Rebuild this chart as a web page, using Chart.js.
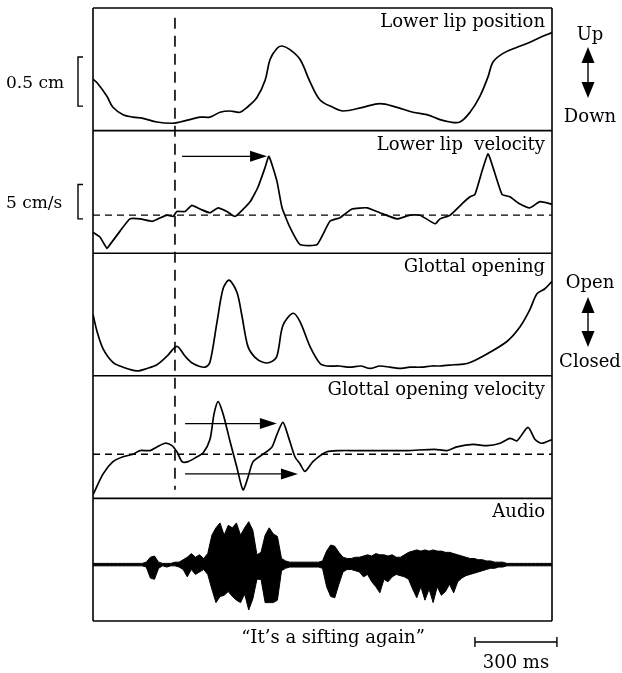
<!DOCTYPE html>
<html lang="en">

<head>
    <meta charset="UTF-8">
    <title>It's a sifting again</title>
    <script src="https://cdn.jsdelivr.net/npm/chart.js"></script>
    <style>
        * {
            margin: 0;
            padding: 0;
        }

        body {
            background-color: #fff;
        }

        canvas {
            display: block;
        }
    </style>
</head>

<body>
    <canvas id="speech-chart" width="622" height="673"></canvas>

    <script>
        // time in ms, values in panel units (0 = panel bottom, 100 = panel top)
        var panelTitles = ['Lower lip position', 'Lower lip  velocity', 'Glottal opening', 'Glottal opening velocity', 'Audio'];

        var lipPosT = [0, 15, 51, 73, 110, 146, 183, 234, 289, 318, 355, 392, 428, 465, 501, 538, 564, 600, 630, 648, 673, 692, 721, 758, 794, 831, 878, 915, 988, 1050, 1113, 1171, 1222, 1270, 1307, 1343, 1380, 1416, 1446, 1464, 1501, 1552, 1599, 1636, 1680];
        var lipPosV = [42, 39, 28, 19, 13, 11, 10, 7, 6, 7, 9, 11, 11, 15, 16, 15, 19, 27, 41, 58, 67, 69, 66, 58, 40, 25, 19, 16, 19, 22, 19, 15, 13, 9, 7, 7, 15, 28, 44, 56, 63, 68, 72, 76, 80];

        var lipVelT = [0, 26, 51, 62, 99, 135, 172, 216, 238, 271, 293, 307, 337, 362, 392, 428, 458, 490, 520, 575, 604, 630, 644, 673, 692, 721, 758, 820, 867, 904, 948, 1003, 1050, 1113, 1160, 1197, 1252, 1270, 1307, 1354, 1380, 1398, 1424, 1446, 1464, 1497, 1526, 1556, 1599, 1636, 1680];
        var lipVelV = [17, 13, 4, 7, 18, 28, 28, 26, 28, 31, 30, 34, 34, 39, 36, 33, 37, 34, 30, 42, 54, 70, 79, 59, 37, 21, 7, 7, 26, 29, 36, 37, 33, 28, 31, 31, 24, 28, 31, 41, 46, 48, 67, 81, 70, 48, 46, 41, 37, 42, 40];
        var lipVelZero = 31;

        var glotT = [0, 15, 37, 73, 110, 161, 198, 234, 271, 307, 337, 366, 410, 428, 454, 476, 498, 527, 545, 567, 593, 622, 648, 673, 695, 732, 758, 794, 831, 856, 900, 941, 980, 1014, 1050, 1087, 1120, 1160, 1200, 1240, 1270, 1320, 1369, 1427, 1515, 1563, 1599, 1625, 1654, 1680];
        var glotV = [50, 36, 22, 11, 7, 4, 6, 9, 16, 24, 16, 10, 7, 11, 44, 71, 78, 68, 49, 24, 15, 11, 11, 16, 41, 51, 44, 24, 10, 8, 8, 7, 8, 6, 8, 7, 6, 7, 7, 8, 8, 9, 10, 16, 28, 40, 54, 67, 71, 77];

        var glotVelT = [0, 37, 73, 110, 146, 172, 209, 234, 264, 289, 307, 326, 348, 381, 403, 428, 443, 458, 476, 501, 527, 549, 567, 586, 622, 655, 673, 695, 714, 739, 758, 776, 805, 856, 904, 960, 1050, 1150, 1250, 1296, 1332, 1391, 1442, 1490, 1526, 1552, 1592, 1618, 1643, 1680];
        var glotVelV = [3, 20, 30, 34, 36, 39, 39, 42, 45, 43, 38, 30, 30, 34, 37, 48, 69, 79, 69, 47, 25, 7, 17, 30, 36, 42, 52, 62, 51, 34, 28, 22, 30, 38, 39, 39, 39, 39, 40, 39, 42, 44, 43, 45, 49, 47, 58, 48, 45, 48];
        var glotVelZero = 36;

        // audio envelope: amplitude above and below the trace centre
        var audioT = [0, 15, 30, 45, 60, 75, 90, 105, 120, 135, 150, 165, 180, 195, 210, 225, 240, 255, 270, 285,
            300, 315, 330, 345, 360, 375, 390, 405, 420, 435, 450, 465, 480, 495, 510, 525, 540, 555, 570, 585,
            600, 615, 630, 645, 660, 675, 690, 705, 720, 735, 750, 765, 780, 795, 810, 825, 840, 855, 870, 885,
            900, 915, 930, 945, 960, 975, 990, 1005, 1020, 1035, 1050, 1065, 1080, 1095, 1110, 1125, 1140, 1155, 1170, 1185,
            1200, 1215, 1230, 1245, 1260, 1275, 1290, 1305, 1320, 1335, 1350, 1365, 1380, 1395, 1410, 1425, 1440, 1455, 1470, 1485,
            1500, 1515, 1530, 1545, 1560, 1575, 1590, 1605, 1620, 1635, 1650, 1665, 1680];
        var audioUp = [1, 1, 1, 1, 1, 1, 1, 1, 1, 1, 1, 1, 1, 2, 6, 7, 2, 1, 1, 1,
            2, 2, 4, 6, 9, 6, 8, 5, 9, 24, 30, 34, 24, 32, 30, 34, 24, 30, 35, 28,
            8, 10, 24, 30, 25, 23, 5, 3, 2, 2, 2, 2, 2, 2, 2, 2, 3, 11, 16, 15,
            10, 6, 5, 5, 6, 6, 7, 8, 7, 9, 8, 8, 7, 8, 6, 6, 8, 10, 11, 12,
            11, 12, 11, 12, 11, 11, 10, 10, 9, 8, 7, 6, 5, 5, 4, 4, 3, 3, 2, 2,
            2, 1, 1, 1, 1, 1, 1, 1, 1, 1, 1, 1, 1];
        var audioDown = [1, 1, 1, 1, 1, 1, 1, 1, 1, 1, 1, 1, 1, 2, 11, 12, 3, 1, 2, 1,
            1, 2, 4, 10, 4, 8, 6, 4, 8, 20, 31, 26, 25, 22, 26, 29, 31, 24, 37, 28,
            12, 12, 31, 31, 31, 29, 5, 3, 2, 2, 2, 2, 2, 2, 2, 2, 3, 18, 26, 27,
            16, 6, 4, 4, 5, 6, 10, 8, 14, 18, 23, 12, 14, 10, 8, 9, 10, 12, 20, 27,
            18, 29, 20, 31, 18, 25, 22, 16, 23, 14, 11, 9, 8, 7, 6, 5, 4, 3, 3, 2,
            2, 1, 1, 1, 1, 1, 1, 1, 1, 1, 1, 1, 1];
        var audioCentre = 46;

        // vertical marker (ms) and its extent on the stacked axis
        var markerT = 300;
        var markerSpan = [492, 107];

        // timing arrows: start ms, end ms, level on the stacked axis
        var arrowStart = [326, 337, 337];
        var arrowEnd = [637, 673, 750];
        var arrowLevel = [379, 161, 120];

        // amplitude calibration brackets (stacked axis units)
        var calibLabels = ['0.5 cm', '5 cm/s'];
        var calibLow = [420, 328];
        var calibHigh = [460, 356];

        var timeBarStart = 1398;
        var timeBarLength = 300;

        var panelCount = 5;

        function stacked(times, values, panel) {
            var base = (panelCount - 1 - panel) * 100;
            return times.map(function (t, i) {
                return { x: t, y: base + values[i] };
            });
        }

        function flat(level, panel) {
            var base = (panelCount - 1 - panel) * 100;
            return [{ x: 0, y: base + level }, { x: 1680, y: base + level }];
        }

        var audioHi = audioT.map(function (t, i) { return { x: t, y: audioCentre + audioUp[i] }; });
        var audioLo = audioT.map(function (t, i) { return { x: t, y: audioCentre - audioDown[i] }; });

        var SERIF = '"DejaVu Serif", serif';

        function arrowHead(ctx, x, y, dir, len, half) {
            ctx.beginPath();
            if (dir === 'right') {
                ctx.moveTo(x, y); ctx.lineTo(x - len, y - half); ctx.lineTo(x - len, y + half);
            } else if (dir === 'up') {
                ctx.moveTo(x, y); ctx.lineTo(x - half, y + len); ctx.lineTo(x + half, y + len);
            } else {
                ctx.moveTo(x, y); ctx.lineTo(x - half, y - len); ctx.lineTo(x + half, y - len);
            }
            ctx.closePath();
            ctx.fill();
        }

        var overlay = {
            id: 'overlay',
            afterDatasetsDraw: function (chart) {
                var ctx = chart.ctx, a = chart.chartArea;
                var xs = chart.scales.x, ys = chart.scales.y;
                ctx.save();
                ctx.strokeStyle = '#000';
                ctx.fillStyle = '#000';
                ctx.lineWidth = 1.6;

                // frame and panel separators
                ctx.beginPath();
                for (var p = 0; p <= panelCount; p++) {
                    var py = ys.getPixelForValue(p * 100);
                    ctx.moveTo(a.left, py);
                    ctx.lineTo(a.right, py);
                }
                ctx.moveTo(a.left, a.top);
                ctx.lineTo(a.left, a.bottom);
                ctx.moveTo(a.right, a.top);
                ctx.lineTo(a.right, a.bottom);
                ctx.stroke();

                // panel titles
                ctx.font = '18px ' + SERIF;
                ctx.textAlign = 'right';
                ctx.textBaseline = 'alphabetic';
                panelTitles.forEach(function (title, i) {
                    var top = ys.getPixelForValue((panelCount - i) * 100);
                    ctx.fillText(title, a.right - 7, top + 19);
                });

                // timing arrows
                ctx.lineWidth = 1.4;
                arrowStart.forEach(function (t0, i) {
                    var x0 = xs.getPixelForValue(t0), x1 = xs.getPixelForValue(arrowEnd[i]);
                    var py = ys.getPixelForValue(arrowLevel[i]);
                    ctx.beginPath();
                    ctx.moveTo(x0, py);
                    ctx.lineTo(x1 - 10, py);
                    ctx.stroke();
                    arrowHead(ctx, x1, py, 'right', 17, 5.5);
                });

                // calibration brackets
                ctx.font = '17px ' + SERIF;
                ctx.textAlign = 'left';
                calibLabels.forEach(function (label, i) {
                    var yl = ys.getPixelForValue(calibLow[i]), yh = ys.getPixelForValue(calibHigh[i]);
                    var bx = a.left - 15;
                    ctx.beginPath();
                    ctx.moveTo(bx + 5, yh);
                    ctx.lineTo(bx, yh);
                    ctx.lineTo(bx, yl);
                    ctx.lineTo(bx + 5, yl);
                    ctx.stroke();
                    ctx.fillText(label, 6, (yl + yh) / 2 + 6);
                });

                // direction keys on the right
                ctx.font = '18px ' + SERIF;
                ctx.textAlign = 'center';
                var kx = 590;
                [['Up', 'Down', 40, 122, 47, 98], ['Open', 'Closed', 288, 367, 297, 347]].forEach(function (k) {
                    ctx.fillText(k[0], kx, k[2]);
                    ctx.fillText(k[1], kx, k[3]);
                    ctx.beginPath();
                    ctx.moveTo(kx - 2, k[4] + 10);
                    ctx.lineTo(kx - 2, k[5] - 10);
                    ctx.stroke();
                    arrowHead(ctx, kx - 2, k[4], 'up', 16, 6.5);
                    arrowHead(ctx, kx - 2, k[5], 'down', 16, 6.5);
                });

                // caption and time scale bar
                var bx0 = xs.getPixelForValue(timeBarStart), bx1 = xs.getPixelForValue(timeBarStart + timeBarLength);
                var barY = a.bottom + 21;
                ctx.beginPath();
                ctx.moveTo(bx0, barY); ctx.lineTo(bx1, barY);
                ctx.moveTo(bx0, barY - 5); ctx.lineTo(bx0, barY + 5);
                ctx.moveTo(bx1, barY - 5); ctx.lineTo(bx1, barY + 5);
                ctx.stroke();
                ctx.fillText('300 ms', (bx0 + bx1) / 2, a.bottom + 47);
                ctx.fillText('\u201CIt\u2019s a sifting again\u201D', 333, a.bottom + 22);

                ctx.restore();
            }
        };

        var ctx = document.getElementById('speech-chart').getContext('2d');
        var myChart = new Chart(ctx, {
            type: 'line',
            data: {
                datasets: [
                    { data: stacked(lipPosT, lipPosV, 0), tension: 0.35 },
                    { data: stacked(lipVelT, lipVelV, 1), tension: 0.15 },
                    { data: flat(lipVelZero, 1), borderDash: [7, 5], borderWidth: 1.3 },
                    { data: stacked(glotT, glotV, 2), tension: 0.3 },
                    { data: stacked(glotVelT, glotVelV, 3), tension: 0.25 },
                    { data: flat(glotVelZero, 3), borderDash: [7, 5], borderWidth: 1.3 },
                    { data: audioHi, borderWidth: 1 },
                    { data: audioLo, borderWidth: 1, fill: '-1', backgroundColor: '#000' },
                    { data: [{ x: markerT, y: markerSpan[0] }, { x: markerT, y: markerSpan[1] }], borderDash: [11, 7], borderWidth: 1.6 }
                ]
            },
            options: {
                responsive: false,
                animation: false,
                layout: { padding: { left: 93, right: 70, top: 8, bottom: 52 } },
                scales: {
                    x: { type: 'linear', min: 0, max: 1680, display: false },
                    y: { min: 0, max: 500, display: false }
                },
                elements: {
                    point: { radius: 0 },
                    line: { borderColor: '#000', borderWidth: 1.7, tension: 0, fill: false }
                },
                plugins: {
                    legend: { display: false },
                    tooltip: { enabled: false }
                }
            },
            plugins: [overlay]
        });
    </script>
</body>

</html>
